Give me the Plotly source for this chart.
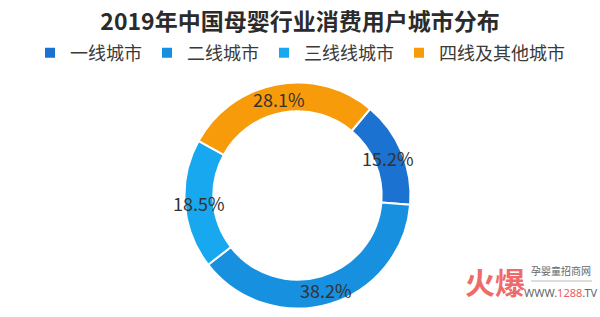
import math
import plotly.graph_objects as go

title = "2019年中国母婴行业消费用户城市分布"
categories = ["一线城市", "二线城市", "三线线城市", "四线及其他城市"]
values = [15.2, 38.2, 18.5, 28.1]
colors = ["#1c72d0", "#1890e0", "#17a8f0", "#f89b0a"]

W, H = 600, 317
cx, cy, r = 297.5, 195.5, 113
hole = 0.745
rotation = 40

fig = go.Figure(go.Pie(
    labels=categories,
    values=values,
    sort=False,
    direction="clockwise",
    rotation=rotation,
    hole=hole,
    marker=dict(colors=colors, line=dict(color="white", width=2)),
    textposition="none",
    domain=dict(x=[(cx - r) / W, (cx + r) / W], y=[(H - cy - r) / H, (H - cy + r) / H]),
    hoverinfo="label+percent",
))

# value labels placed on the ring at each slice's mid-angle
annotations = []
total = sum(values)
cum = 0.0
rmid = r * (1 + hole) / 2
for v in values:
    ang = math.radians(rotation + (cum + v / 2) / total * 360)
    cum += v
    px = cx + rmid * math.sin(ang)
    py = cy - rmid * math.cos(ang)
    annotations.append(dict(text=f"{v:.1f}%", x=px / W, y=1 - py / H, xref="paper", yref="paper",
                            xanchor="center", yanchor="middle", showarrow=False,
                            font=dict(size=18, color="#333333", family="Noto Sans CJK SC")))

annotations += [
    dict(text="<b>火爆</b>", x=495 / W, y=1 - 281 / H, xref="paper", yref="paper",
         xanchor="center", yanchor="middle", showarrow=False,
         font=dict(size=30, color="#ef6a6a", family="Noto Sans CJK SC")),
    dict(text="孕婴童招商网", x=561 / W, y=1 - 270 / H, xref="paper", yref="paper",
         xanchor="center", yanchor="middle", showarrow=False,
         font=dict(size=10, color="#666666", family="Noto Sans CJK SC")),
    dict(text="WWW.<span style='color:#e86060'>1288</span>.TV", x=561 / W, y=1 - 292 / H,
         xref="paper", yref="paper", xanchor="center", yanchor="middle", showarrow=False,
         font=dict(size=11, color="#666666", family="Noto Sans")),
]

fig.update_layout(
    width=W, height=H,
    margin=dict(l=0, r=0, t=0, b=0),
    paper_bgcolor="white",
    font=dict(family="Noto Sans CJK SC", color="#333333"),
    title=dict(text="<b>" + title + "</b>", x=0.5, xanchor="center", y=1 - 22 / H, yanchor="middle",
               font=dict(size=23, color="#2b2b2b", family="Noto Sans CJK SC")),
    legend=dict(orientation="h", x=0.5, xanchor="center", y=1 - 53 / H, yanchor="middle",
                font=dict(size=18, color="#3a3a3a", family="Noto Sans CJK SC"),
                itemwidth=30, tracegroupgap=0),
    annotations=annotations,
    shapes=[dict(type="line", xref="paper", yref="paper", x0=531 / W, x1=592 / W,
                 y0=1 - 281 / H, y1=1 - 281 / H, line=dict(color="#bbbbbb", width=1))],
)

fig.write_html("out.html")
